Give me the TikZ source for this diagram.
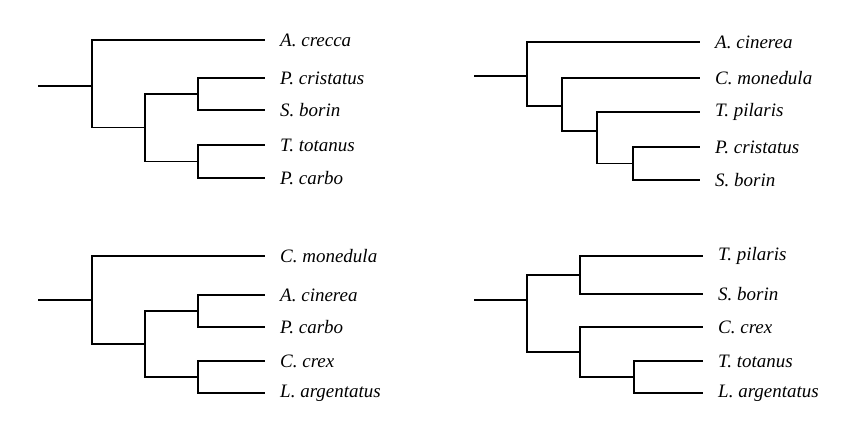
\documentclass[tikz,border=0pt]{standalone}
\usepackage{fontspec}
\setmainfont{Liberation Serif}
\usetikzlibrary{positioning}
\tikzset{
    leaf/.style={anchor=west, inner sep=0pt, font=\fontsize{16.2}{19}\selectfont\itshape},
    branch/.style={line width=1pt}
}
\begin{document}
\begin{tikzpicture}[x=0.03cm, y=-0.03cm]
    \useasboundingbox (0,0) rectangle (864,431);

    % top left
    \node[leaf] (AC) at (280,40) {A. crecca};
    \node[leaf] (PC) at (280,78) {P. cristatus};
    \node[leaf] (SB) at (280,110) {S. borin};
    \node[leaf] (TT) at (280,145) {T. totanus};
    \node[leaf] (PB) at (280,178) {P. carbo};
    \coordinate (N1a) at (198,94);
    \coordinate (N1b) at (198,161.5);
    \coordinate (N1c) at (145,127.75);
    \coordinate (N1r) at (92,86);
    \coordinate (R1) at (38,86);
    \draw[branch] ([xshift=-13pt]PC.west) -| (N1a) |- ([xshift=-13pt]SB.west);
    \draw[branch] ([xshift=-13pt]TT.west) -| (N1b) |- ([xshift=-13pt]PB.west);
    \draw[branch] (N1a) -| (N1c) |- (N1b);
    \draw[branch] ([xshift=-13pt]AC.west) -| (N1r) |- (N1c);
    \draw[branch] (R1) -- (N1r);

    % top right
    \node[leaf] (ACi) at (715,42) {A. cinerea};
    \node[leaf] (CM) at (715,78) {C. monedula};
    \node[leaf] (TP) at (715,112) {T. pilaris};
    \node[leaf] (PC2) at (715,147) {P. cristatus};
    \node[leaf] (SB2) at (715,180) {S. borin};
    \coordinate (N2a) at (633,163.5);
    \coordinate (N2b) at (597,131);
    \coordinate (N2c) at (562,106);
    \coordinate (N2r) at (527,76);
    \coordinate (R2) at (474,76);
    \draw[branch] ([xshift=-13pt]PC2.west) -| (N2a) |- ([xshift=-13pt]SB2.west);
    \draw[branch] ([xshift=-13pt]TP.west) -| (N2b) |- (N2a);
    \draw[branch] ([xshift=-13pt]CM.west) -| (N2c) |- (N2b);
    \draw[branch] ([xshift=-13pt]ACi.west) -| (N2r) |- (N2c);
    \draw[branch] (R2) -- (N2r);

    % bottom left
    \node[leaf] (CM3) at (280,256) {C. monedula};
    \node[leaf] (ACi3) at (280,295) {A. cinerea};
    \node[leaf] (PB3) at (280,327) {P. carbo};
    \node[leaf] (CC3) at (280,361) {C. crex};
    \node[leaf] (LA3) at (280,393) {L. argentatus};
    \coordinate (N3a) at (198,311);
    \coordinate (N3b) at (198,377);
    \coordinate (N3c) at (145,344);
    \coordinate (N3r) at (92,300);
    \coordinate (R3) at (38,300);
    \draw[branch] ([xshift=-13pt]ACi3.west) -| (N3a) |- ([xshift=-13pt]PB3.west);
    \draw[branch] ([xshift=-13pt]CC3.west) -| (N3b) |- ([xshift=-13pt]LA3.west);
    \draw[branch] (N3a) -| (N3c) |- (N3b);
    \draw[branch] ([xshift=-13pt]CM3.west) -| (N3r) |- (N3c);
    \draw[branch] (R3) -- (N3r);

    % bottom right
    \node[leaf] (TP4) at (718,256) {T. pilaris};
    \node[leaf] (SB4) at (718,294) {S. borin};
    \node[leaf] (CC4) at (718,327) {C. crex};
    \node[leaf] (TT4) at (718,361) {T. totanus};
    \node[leaf] (LA4) at (718,393) {L. argentatus};
    \coordinate (N4a) at (580,275);
    \coordinate (N4b) at (634,377);
    \coordinate (N4c) at (580,352);
    \coordinate (N4r) at (527,300);
    \coordinate (R4) at (474,300);
    \draw[branch] ([xshift=-13pt]TP4.west) -| (N4a) |- ([xshift=-13pt]SB4.west);
    \draw[branch] ([xshift=-13pt]TT4.west) -| (N4b) |- ([xshift=-13pt]LA4.west);
    \draw[branch] ([xshift=-13pt]CC4.west) -| (N4c) |- (N4b);
    \draw[branch] (N4a) -| (N4r) |- (N4c);
    \draw[branch] (R4) -- (N4r);
\end{tikzpicture}
\end{document}
